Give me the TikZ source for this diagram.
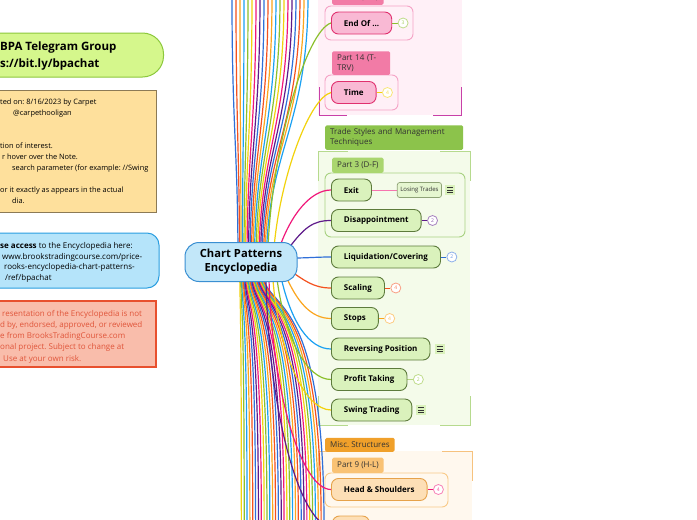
\documentclass[tikz,border=0pt]{standalone}
\usepackage{fontspec}
\setmainfont{Open Sans}
\usetikzlibrary{positioning}
\frenchspacing

% branch colours, in the order the map uses them
\definecolor{br0}{HTML}{2F6FD8}
\definecolor{br1}{HTML}{F4511E}
\definecolor{br2}{HTML}{FBA51D}
\definecolor{br3}{HTML}{1BA1F2}
\definecolor{br4}{HTML}{8BC02C}
\definecolor{br5}{HTML}{F2D20C}
\definecolor{br6}{HTML}{F0187A}
\definecolor{br7}{HTML}{5E1A8A}

\definecolor{tgfill}{HTML}{D5F78C}
\definecolor{tgedge}{HTML}{8CC83C}
\definecolor{notefill}{HTML}{FEE09C}
\definecolor{noteedge}{HTML}{8C7A55}
\definecolor{infofill}{HTML}{B5E4FA}
\definecolor{infoedge}{HTML}{2A9EE0}
\definecolor{warnfill}{HTML}{F9BDAB}
\definecolor{warnedge}{HTML}{E8502E}
\definecolor{warntext}{HTML}{E0553A}
\definecolor{cepfill}{HTML}{C2E7F9}
\definecolor{cepedge}{HTML}{3A8FD2}

\definecolor{pinkbg}{HTML}{FFF0F7}
\definecolor{pinkcorner}{HTML}{C840A8}
\definecolor{pinktab}{HTML}{F27BA6}
\definecolor{pinkbox}{HTML}{F5A3C6}
\definecolor{pinkfill}{HTML}{F9B9D4}
\definecolor{pinkedge}{HTML}{E0306E}

\definecolor{greenbg}{HTML}{F4FBEA}
\definecolor{greencorner}{HTML}{B6DA8E}
\definecolor{greentab}{HTML}{8CC34B}
\definecolor{greentabb}{HTML}{AAD66F}
\definecolor{greenbox}{HTML}{A8D282}
\definecolor{greenfill}{HTML}{DAF2BC}
\definecolor{greenedge}{HTML}{5D7B3C}

\definecolor{orangebg}{HTML}{FFF8EE}
\definecolor{orangecorner}{HTML}{F6C27E}
\definecolor{orangetab}{HTML}{F0A02A}
\definecolor{orangetabb}{HTML}{F9C274}
\definecolor{orangebox}{HTML}{F9CA88}
\definecolor{orangefill}{HTML}{FDDFB6}
\definecolor{orangeedge}{HTML}{E6A24A}

\pgfdeclarelayer{back}
\pgfdeclarelayer{wires}
\pgfsetlayers{back,wires,main}

\begin{document}
\begin{tikzpicture}[
    x=1pt, y=-1pt,
    wire/.style = {line width=1.2pt},
    topic/.style = {
      draw,
      rounded corners=7pt,
      line width=0.9pt,
      anchor=west,
      minimum height=22pt,
      inner xsep=12.5pt,
      inner ysep=0pt,
      font=\bfseries\fontsize{8}{9}\selectfont
    },
    pinktopic/.style = {topic, fill=pinkfill, draw=pinkedge},
    greentopic/.style = {topic, fill=greenfill, draw=greenedge},
    orangetopic/.style = {topic, fill=orangefill, draw=orangeedge},
    badge/.style = {
      circle,
      draw=#1!55,
      text=#1!75,
      fill=white,
      line width=0.8pt,
      inner sep=0pt,
      minimum size=10pt,
      font=\fontsize{5}{5}\selectfont
    },
    tabbox/.style = {
      anchor=south west,
      inner xsep=5pt,
      inner ysep=4pt,
      align=left,
      rounded corners=1.5pt,
      text=black!80,
      font=\fontsize{8}{10.5}\selectfont
    },
    subbox/.style = {rounded corners=6pt, line width=0.9pt},
    grpedge/.style = {line width=1pt},
    noteicon/.style = {
      fill=greenfill,
      minimum size=10pt,
      inner sep=0pt,
      path picture={
        \foreach \yy in {-2.5,0,2.5}
          \draw[line width=0.6pt, black!80]
            ([xshift=-3pt, yshift=\yy pt]path picture bounding box.center) -- ++(6pt,0pt);
      }
    },
    textline/.style = {anchor=base west, inner sep=0pt},
    noteline/.style = {textline, font=\fontsize{7.4}{9}\selectfont},
    infoline/.style = {textline, font=\fontsize{8}{10}\selectfont},
    warnline/.style = {textline, text=warntext, font=\fontsize{8}{10}\selectfont}
  ]

  \useasboundingbox (0,0) rectangle (697,520);

  % notes on the left
  \node[draw=tgedge, fill=tgfill, line width=1pt, rounded corners=21pt,
    anchor=east, minimum width=210pt, minimum height=44pt] (tg) at (164,55) {};
  \node[anchor=west, inner sep=0pt, align=left,
    font=\bfseries\fontsize{11.5}{16.5}\selectfont] (tg-t) at (0,56)
    {BPA Telegram Group\\s://bit.ly/bpachat};

  \draw[noteedge, fill=notefill, line width=1pt] (-5,90) rectangle (156,212);
  \node[noteline] (note-1) at (0,104) {ted on: 8/16/2023 by Carpet};
  \node[noteline] (note-2) at (13,115) {@carpethooligan};
  \node[noteline] (note-3) at (0,148) {tion of interest.};
  \node[noteline] (note-4) at (2,159) {r hover over the Note.};
  \node[noteline] (note-5) at (12,170) {search parameter (for example: //Swing};
  \node[noteline] (note-6) at (0,192) {or it exactly as appears in the actual};
  \node[noteline] (note-7) at (12,203) {dia.};

  \draw[infoedge, fill=infofill, line width=1pt, rounded corners=12pt] (-20,233) rectangle (159,288);
  \node[infoline] (info-1) at (0,248) {\textbf{se access} to the Encyclopedia here:};
  \node[infoline] (info-2) at (2,259) {www.brookstradingcourse.com/price-};
  \node[infoline] (info-3) at (4,269) {rooks-encyclopedia-chart-patterns-};
  \node[infoline] (info-4) at (5,280) {/ref/bpachat};

  \draw[warnedge, fill=warnfill, line width=1.2pt] (-5,301) rectangle (156,367);
  \node[warnline] (warn-1) at (2,316) {resentation of the Encyclopedia is not};
  \node[warnline] (warn-2) at (0,327) {d by, endorsed, approved, or reviewed};
  \node[warnline] (warn-3) at (0,338) {e from BrooksTradingCourse.com};
  \node[warnline] (warn-4) at (0,349) {onal project. Subject to change at};
  \node[warnline] (warn-5) at (3,361) {Use at your own risk.};

  % central topic
  \node[draw=cepedge, fill=cepfill, line width=1pt, rounded corners=14pt,
    minimum width=112pt, minimum height=39pt, align=center,
    font=\bfseries\fontsize{11.2}{14}\selectfont] (cep) at (241,262)
    {Chart Patterns\\Encyclopedia};

  % Part 3 (D-F) / Part 14 (T-TRV)
  \node[tabbox, fill=pinktab] (tab-top) at (332,5) {Part 3 (D-F)};
  \node[pinktopic] (endof) at (331,23) {End Of ...};
  \node[badge=br4, right=5.5pt of endof] (b-endof) {3};
  \node[tabbox, fill=pinktab, text width=48pt, inner ysep=3pt] (tab-p14) at (332,75) {Part 14 (T-\\TRV)};
  \node[pinktopic] (time) at (331,92.5) {Time};
  \node[badge=br5, right=5.5pt of time] (b-time) {4};

  % Trade Styles and Management Techniques
  \node[tabbox, fill=greentab, text width=128pt, inner ysep=3pt] (tab-trade) at (325,150)
    {Trade Styles and Management\\Techniques};
  \node[tabbox, fill=greentabb] (tab-p3) at (332,173) {Part 3 (D-F)};
  \node[greentopic] (exit) at (331,190) {Exit};
  \node[right=25pt of exit, draw=greenedge!70, fill=greenfill!70, rounded corners=2.5pt,
    line width=0.7pt, minimum height=15pt, inner xsep=3pt, text=black!80,
    font=\fontsize{6}{6}\selectfont] (losing) {Losing Trades};
  \node[noteicon, right=3pt of losing] (n-losing) {};
  \node[greentopic] (disap) at (331,220.5) {Disappointment};
  \node[badge=br7, right=5.5pt of disap] (b-disap) {2};
  \node[greentopic] (liq) at (331,257) {Liquidation/Covering};
  \node[badge=br0, right=5.5pt of liq] (b-liq) {2};
  \node[greentopic] (scal) at (331,288) {Scaling};
  \node[badge=br1, right=5.5pt of scal] (b-scal) {4};
  \node[greentopic] (stops) at (331,318.5) {Stops};
  \node[badge=br2, right=5.5pt of stops] (b-stops) {4};
  \node[greentopic] (rev) at (331,349) {Reversing Position};
  \node[noteicon, right=4pt of rev] (n-rev) {};
  \node[greentopic] (profit) at (331,379.5) {Profit Taking};
  \node[badge=br4, right=5.5pt of profit] (b-profit) {2};
  \node[greentopic] (swing) at (331,410) {Swing Trading};
  \node[noteicon, right=4pt of swing] (n-swing) {};

  % Misc. Structures
  \node[tabbox, fill=orangetab] (tab-misc) at (325,452) {Misc. Structures};
  \node[tabbox, fill=orangetabb] (tab-p9) at (332,473) {Part 9 (H-L)};
  \node[orangetopic] (hs) at (331,489.5) {Head \& Shoulders};
  \node[badge=br6, right=5.5pt of hs] (b-hs) {4};
  \node[orangetopic, minimum width=37pt] (nxt) at (332,527) {};

  % group backgrounds
  \begin{pgfonlayer}{back}
    \fill[white] (0,0) rectangle (697,520);

    \fill[pinkbg] (318,0) rectangle (462,115);
    \draw[grpedge, pinkcorner] (319,87) -- (319,115) -- (347,115);
    \draw[grpedge, pinkcorner] (433,115) -- (461,115) -- (461,87);
    \draw[subbox, pinkbox] (325,6) rectangle (413,40);
    \draw[subbox, pinkbox] (325,75) rectangle (398,110);

    \fill[greenbg] (318,151) rectangle (470,425);
    \draw[grpedge, greencorner] (318,181) -- (318,151) -- (348,151);
    \draw[grpedge, greencorner] (440,151) -- (470,151) -- (470,181);
    \draw[grpedge, greencorner] (318,396) -- (318,425) -- (348,425);
    \draw[grpedge, greencorner] (440,425) -- (470,425) -- (470,396);
    \draw[subbox, greenbox] (325,173) rectangle (465,237);

    \fill[orangebg] (318,451) rectangle (472,525);
    \draw[grpedge, orangecorner] (318,481) -- (318,451) -- (348,451);
    \draw[grpedge, orangecorner] (442,451) -- (472,451) -- (472,481);
    \draw[subbox, orangebox] (325,473) rectangle (448,507);
  \end{pgfonlayer}

  % branches
  \begin{pgfonlayer}{wires}
    % branches leaving the top of the page
    \foreach \i in {0,...,19} {
      \pgfmathtruncatemacro\k{mod(\i,8)}
      \pgfmathsetmacro\dx{-3+1.5*\i}
      \pgfmathsetmacro\ex{232+4*\i}
      \draw[wire, color=br\k] ([xshift=\dx pt]cep.center)
        .. controls +(0,-110) and +(0,130) .. (\ex,-3);
    }
    % branches leaving the bottom of the page
    \foreach \j in {0,...,29} {
      \pgfmathtruncatemacro\k{mod(\j,8)}
      \pgfmathsetmacro\dx{22-0.8*\j}
      \pgfmathsetmacro\ex{324-2.85*\j}
      \draw[wire, color=br\k] ([xshift=\dx pt, yshift=-10pt]cep.center)
        .. controls +(0,40) and +(0,-240) .. (\ex,523);
    }

    \draw[wire, br4] ([shift={(27,-14)}]cep.center) .. controls +(4,-100) and +(-25,8) .. (endof.west);
    \draw[wire, br5] ([shift={(33,-14)}]cep.center) .. controls +(6,-70) and +(-22,6) .. (time.west);
    \draw[wire, br6] ([shift={(38,-13)}]cep.center) .. controls +(12,-35) and +(-20,0) .. (exit.west);
    \draw[wire, br7] ([shift={(45,-10)}]cep.center) .. controls +(18,-25) and +(-18,0) .. (disap.west);
    \draw[wire, br0] ([shift={(52,-4)}]cep.center) .. controls +(15,0) and +(-15,0) .. (liq.west);
    \draw[wire, br1] ([shift={(48,8)}]cep.center) .. controls +(15,10) and +(-18,0) .. (scal.west);
    \draw[wire, br2] ([shift={(44,12)}]cep.center) .. controls +(12,28) and +(-20,0) .. (stops.west);
    \draw[wire, br3] ([shift={(40,15)}]cep.center) .. controls +(10,45) and +(-22,0) .. (rev.west);
    \draw[wire, br4] ([shift={(36,17)}]cep.center) .. controls +(8,60) and +(-24,0) .. (profit.west);
    \draw[wire, br5] ([shift={(32,18)}]cep.center) .. controls +(6,75) and +(-26,0) .. (swing.west);
    \draw[wire, br6] ([shift={(28,18)}]cep.center) .. controls +(4,120) and +(-28,0) .. (hs.west);
    \draw[wire, br7] ([shift={(25,18)}]cep.center) .. controls +(3,140) and +(-30,0) .. (nxt.west);

    % small connectors to counts and sub-topics
    \draw[line width=1pt, br4] (endof) -- (b-endof);
    \draw[line width=1pt, br5] (time) -- (b-time);
    \draw[line width=1pt, br6!60] (exit) -- (losing);
    \draw[line width=1pt, br7] (disap) -- (b-disap);
    \draw[line width=1pt, br0] (liq) -- (b-liq);
    \draw[line width=1pt, br1] (scal) -- (b-scal);
    \draw[line width=1pt, br2] (stops) -- (b-stops);
    \draw[line width=1pt, br4!60] (profit) -- (b-profit);
    \draw[line width=1pt, br6] (hs) -- (b-hs);
  \end{pgfonlayer}

\end{tikzpicture}
\end{document}
